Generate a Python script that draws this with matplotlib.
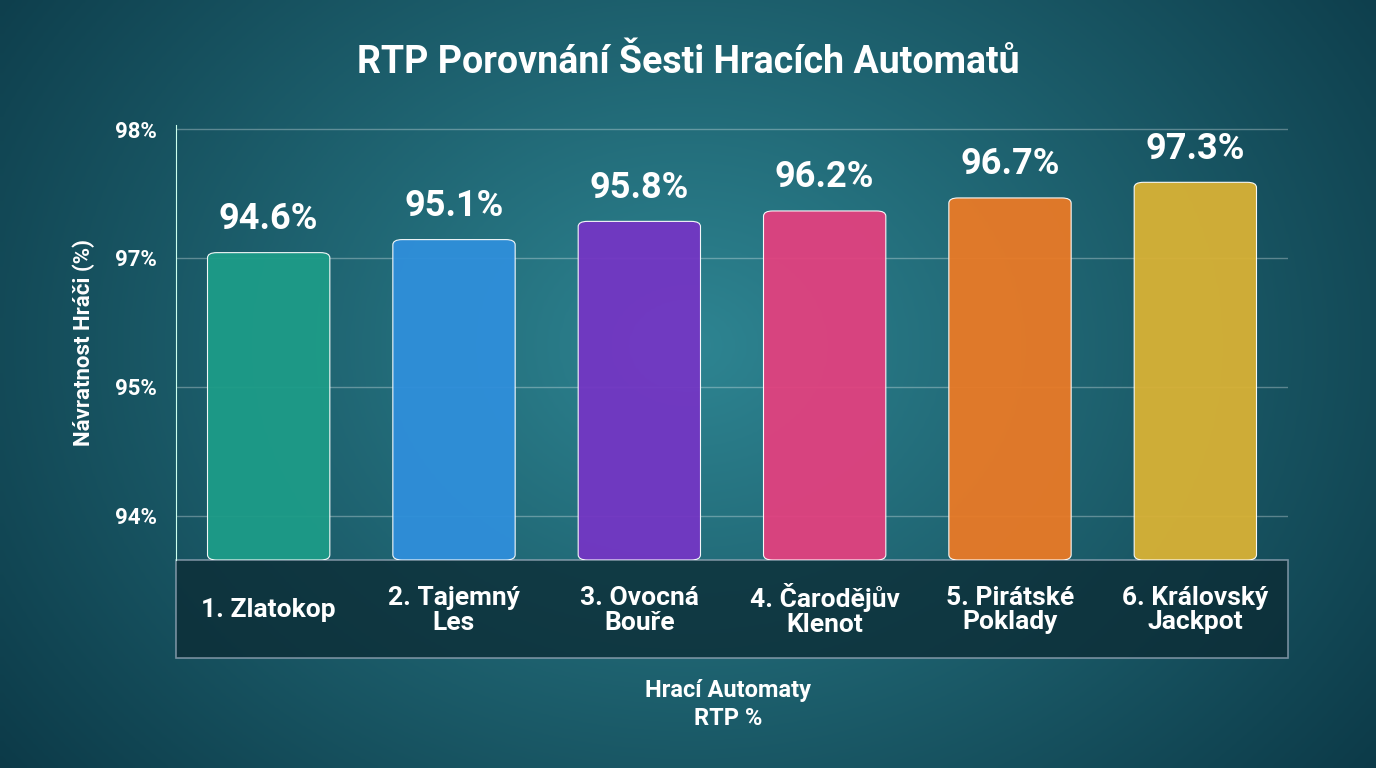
import matplotlib
matplotlib.use("Agg")
import matplotlib.pyplot as plt
import numpy as np
from matplotlib.patches import Rectangle, FancyBboxPatch

categories = ["1. Zlatokop", "2. Tajemný\nLes", "3. Ovocná\nBouře", "4. Čarodějův\nKlenot", "5. Pirátské\nPoklady", "6. Královský\nJackpot"]
values = [94.6, 95.1, 95.8, 96.2, 96.7, 97.3]
tick_labels = ["98%", "97%", "95%", "94%"]
tick_pos = [99.33, 94.4, 89.45, 84.5]
colors = ["#1d9c88", "#2f8fdb", "#7436c4", "#e2417f", "#ea7a26", "#d9b235"]

plt.rcParams['font.family'] = ['Roboto', 'DejaVu Sans']
fig = plt.figure(figsize=(13.76, 7.68), dpi=100)
bg = fig.add_axes([0, 0, 1, 1], zorder=-10)
yy = np.linspace(0, 1, 256)[:, None]
xx = np.linspace(-1, 1, 256)[None, :]
r = np.sqrt(xx**2 * 0.5 + (yy - 0.55)**2)
c0 = np.array([0x2e, 0x85, 0x92]) / 255
c1 = np.array([0x0c, 0x3a, 0x48]) / 255
t = np.clip(r / 0.9, 0, 1)[..., None]
img = c0 * (1 - t) + c1 * t
bg.imshow(img, aspect='auto', extent=[0, 1, 0, 1], origin='lower')
bg.axis('off')
bg.add_patch(Rectangle((176/1376, (768-658)/768), (1288-176)/1376, 98/768,
                       facecolor='#0b2a33', alpha=0.75, edgecolor='#9ab', lw=1.2))

ax = fig.add_axes([176/1376, (768-560)/768, (1288-176)/1376, (560-125)/768])
ax.set_facecolor('none')
ymin, ymax = 82.8, 99.5
x = np.arange(len(values))
ax.set_ylim(ymin, ymax)
ax.set_xlim(-0.5, 5.5)
for xi, v, c in zip(x, values, colors):
    ax.add_patch(FancyBboxPatch((xi - 0.33, ymin), 0.66, v - ymin,
                                boxstyle="round,pad=0,rounding_size=0.05",
                                mutation_aspect=4, facecolor=c, edgecolor='white', lw=0.8, alpha=0.95, zorder=3))
    ax.text(xi, v + 0.6, f"{v}%", ha='center', va='bottom', color='white', fontsize=26, fontweight='bold', zorder=4)
ax.set_yticks(tick_pos)
ax.set_yticklabels(tick_labels, color='white', fontsize=16, fontweight='bold')
ax.set_xticks([])
ax.grid(axis='y', color='white', alpha=0.3, lw=1)
for s in ['top', 'right', 'bottom']:
    ax.spines[s].set_visible(False)
ax.spines['left'].set_color('#cfe')
ax.tick_params(axis='y', length=0, pad=14)
ax.set_ylabel("Návratnost Hráči (%)", color='white', fontsize=16, fontweight='bold', labelpad=14)
for xi, lab in zip(x, categories):
    ax.text(xi, -0.115, lab, transform=ax.get_xaxis_transform(), ha='center', va='center',
            color='white', fontsize=19, fontweight='bold', linespacing=1.05)
fig.text(0.529, 0.083, "Hrací Automaty\nRTP %", ha='center', va='center', color='white',
         fontsize=17, fontweight='bold', linespacing=1.3)
fig.text(0.5, 0.918, "RTP Porovnání Šesti Hracích Automatů", ha='center', va='center',
         color='white', fontsize=27, fontweight='bold')
fig.savefig("out.png", dpi=100)
